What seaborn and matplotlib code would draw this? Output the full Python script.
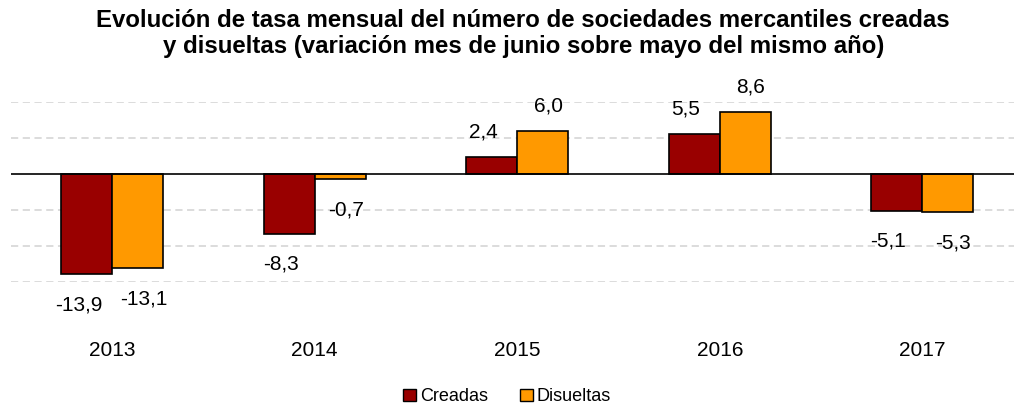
import pandas as pd
import matplotlib.pyplot as plt
import seaborn as sns
from matplotlib.patches import Patch

years = ["2013", "2014", "2015", "2016", "2017"]
creadas = [-13.9, -8.3, 2.4, 5.5, -5.1]
disueltas = [-13.1, -0.7, 6.0, 8.6, -5.3]
series = ["Creadas", "Disueltas"]
colors = ["#990000", "#FF9900"]

df = pd.DataFrame({
    "year": years * 2,
    "value": creadas + disueltas,
    "serie": [series[0]] * len(years) + [series[1]] * len(years),
})

sns.set_style("white")
plt.rcParams["font.family"] = ["Liberation Sans", "DejaVu Sans"]
plt.rcParams["text.color"] = "black"
plt.rcParams["xtick.color"] = "black"

fig = plt.figure(figsize=(10.14, 4.07), dpi=100)
ax = fig.add_axes([11 / 1014, 125 / 407, 1003 / 1014, 180 / 407])

sns.barplot(data=df, x="year", y="value", hue="serie", palette=colors,
            saturation=1, width=0.505, edgecolor="black", linewidth=1.2,
            ax=ax, legend=False)

ax.set_xlim(-0.5, -0.5 + 1003 / 202.5)
ax.set_ylim(-15, 10)
ax.set_yticks([-15, -10, -5, 5, 10])
ax.yaxis.grid(True, color="#d9d9d9", linestyle=(0, (4, 2.5)), linewidth=1.3)
ax.set_axisbelow(True)
ax.axhline(0, color="black", linewidth=1.2)
ax.tick_params(axis="y", left=False, labelleft=False)
ax.tick_params(axis="x", bottom=False, pad=39, labelsize=15, labelcolor="black")
ax.set_xlabel("")
ax.set_ylabel("")
for s in ax.spines.values():
    s.set_visible(False)

# excel-like label placement: creadas labels sit a little to the left
xshift = [-6, 4]
for i, cont in enumerate(ax.containers):
    for bar in cont:
        h = bar.get_height()
        x = bar.get_x() + bar.get_width() / 2
        off = 18 if h >= 0 else -22
        ax.annotate(f"{h:.1f}".replace(".", ","), (x, h), xytext=(xshift[i], off),
                    textcoords="offset points", ha="center", va="center",
                    fontsize=15, color="black", annotation_clip=False)

fig.text(0.516, 0.918, "Evolución de tasa mensual del número de sociedades mercantiles creadas\n"
         "y disueltas (variación mes de junio sobre mayo del mismo año)",
         ha="center", va="center", fontsize=17.3, fontweight="bold",
         color="black", linespacing=1.15)

handles = [Patch(facecolor=c, edgecolor="black", label=s) for c, s in zip(colors, series)]
fig.legend(handles=handles, loc="center", bbox_to_anchor=(0.5, 0.025), ncol=2,
           frameon=False, fontsize=13, handlelength=0.7, handleheight=0.7,
           handletextpad=0.2, columnspacing=1.8)

fig.savefig("out.png", dpi=100)
